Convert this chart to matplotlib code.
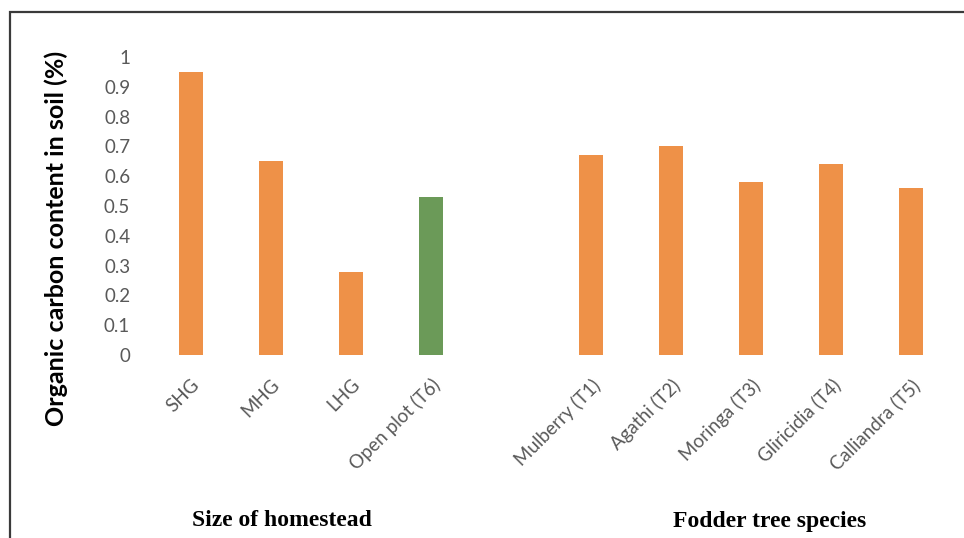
import matplotlib
matplotlib.use("Agg")
import matplotlib.pyplot as plt
from matplotlib.patches import Rectangle

# Soil organic carbon by homestead size and by fodder tree species
categories = ["SHG", "MHG", "LHG", "Open plot (T6)", "",
              "Mulberry (T1)", "Agathi (T2)", "Moringa (T3)",
              "Gliricidia (T4)", "Calliandra (T5)"]
values = [0.95, 0.65, 0.28, 0.53, None, 0.67, 0.70, 0.58, 0.64, 0.56]
bar_colors = ["#EE9148", "#EE9148", "#EE9148", "#6B9A58", None,
              "#EE9148", "#EE9148", "#EE9148", "#EE9148", "#EE9148"]
y_ticks = [0, 0.1, 0.2, 0.3, 0.4, 0.5, 0.6, 0.7, 0.8, 0.9, 1]
y_tick_labels = ["0", "0.1", "0.2", "0.3", "0.4", "0.5", "0.6", "0.7", "0.8", "0.9", "1"]
group_labels = ["Size of homestead", "Fodder tree species"]

W, H = 964, 538
fig = plt.figure(figsize=(W / 100, H / 100), dpi=100)
fig.patch.set_facecolor("white")

# outer frame (runs off the right and bottom edges)
fig.add_artist(Rectangle((10 / W, -0.05), 1.05, 1 - 12 / H + 0.05,
                         transform=fig.transFigure, fill=False,
                         edgecolor="#3a3a3a", linewidth=1.6))

ax = fig.add_axes([151 / W, (H - 355) / H, 800 / W, 298 / H])
xs = [i for i, v in enumerate(values) if v is not None]
ax.bar(xs, [values[i] for i in xs], width=0.3,
       color=[bar_colors[i] for i in xs])

ax.set_xlim(-0.5, len(categories) - 0.5)
ax.set_ylim(0, 1)
ax.set_yticks(y_ticks)
ax.set_yticklabels(y_tick_labels, fontsize=13.5, color="#595959", family="Lato")
ax.set_xticks(xs)
ax.set_xticklabels([categories[i] for i in xs], rotation=45, ha="right",
                   rotation_mode="anchor", fontsize=13.5, color="#595959",
                   family="Lato")
ax.tick_params(axis="both", length=0)
ax.tick_params(axis="y", pad=15)
ax.tick_params(axis="x", pad=15)
for s in ax.spines.values():
    s.set_visible(False)

ax.set_ylabel("Organic carbon content in soil (%)", fontsize=18,
              fontweight="bold", family="Lato", color="#000000")
ax.yaxis.set_label_coords(-0.104, 0.39)

fig.text(282 / W, 1 - 520 / H, group_labels[0], ha="center", va="center",
         fontsize=17, fontweight="bold", family="Liberation Serif")
fig.text(770 / W, 1 - 522 / H, group_labels[1], ha="center", va="center",
         fontsize=17, fontweight="bold", family="Liberation Serif")

fig.savefig("out.png", dpi=100)
